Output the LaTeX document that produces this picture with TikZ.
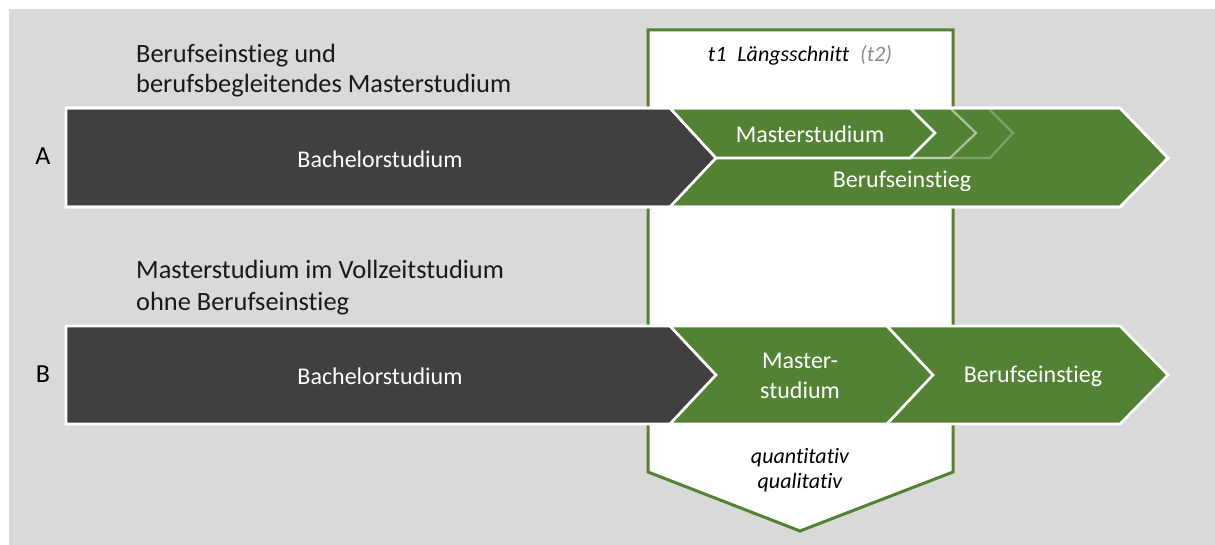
\documentclass[tikz,border=0pt]{standalone}
\usepackage{fontspec}
\setmainfont[Ligatures=NoCommon]{Carlito}
\definecolor{bggray}{HTML}{D9D9D9}
\definecolor{darkbar}{HTML}{404040}
\definecolor{grn}{HTML}{548235}
\definecolor{ltxt}{HTML}{8C8C8C}
\tikzset{
  barshape/.style={draw=white, line width=2.6pt, line join=miter},
  darkshape/.style={barshape, fill=darkbar},
  grnshape/.style={barshape, fill=grn},
  ghost/.style={draw=white, line width=2.2pt, line join=miter},
  titletxt/.style={anchor=base west, inner sep=0pt, font=\fontsize{26.4}{30}\selectfont, text=black!90},
  bartxt/.style={inner sep=0pt, font=\fontsize{24}{30}\selectfont, text=white, align=center},
  frametxt/.style={inner sep=0pt, font=\itshape\fontsize{22}{26}\selectfont, align=center},
}
\begin{document}
\begin{tikzpicture}[x=1pt,y=-1pt]
\useasboundingbox (0,0) rectangle (1215,545);
\fill[white] (0,0) rectangle (1215,545);
\fill[bggray] (9,9) rectangle (1215,545);
% frame
\draw[draw=grn, line width=3pt, fill=white, line join=miter]
  (648,30) -- (953,30) -- (953,472) -- (800,531) -- (648,472) -- cycle;
\node[frametxt, anchor=base] (ls) at (800,62) {t1\hspace{0.5em}Längsschnitt\hspace{0.5em}\textcolor{ltxt}{(t2)}};
\node[frametxt, anchor=base] (q1) at (800,463) {quantitativ};
\node[frametxt, anchor=base] (q2) at (800,488) {qualitativ};
% row A
\draw[darkshape] (66,108) -- (670,108) -- (716,158) -- (670,207) -- (66,207) -- cycle;
\draw[grnshape] (670,108) -- (1120,108) -- (1168,158) -- (1120,207) -- (670,207) -- (716,158) -- cycle;
\draw[ghost, draw opacity=0.25] (988,108) -- (1013,133) -- (990,158) -- (800,158);
\draw[ghost, draw opacity=0.5] (950,108) -- (976,133) -- (950,158) -- (800,158);
\draw[grnshape] (670,108) -- (910,108) -- (935,133) -- (910,158) -- (716,158) -- cycle;
\draw[barshape] (66,108) -- (1120,108) -- (1168,158) -- (1120,207) -- (66,207);
\node[bartxt] (ba) at (380,159) {Bachelorstudium};
\node[bartxt] (ma) at (810,134) {Masterstudium};
\node[bartxt] (ea) at (902,181) {Berufseinstieg};
\node[titletxt] (ta1) at (136,63) {Berufseinstieg und};
\node[titletxt] (ta2) at (136,93) {berufsbegleitendes Masterstudium};
\node[inner sep=0pt, font=\fontsize{26}{30}\selectfont] (la) at (43,156) {A};
% row B
\draw[darkshape] (66,326) -- (670,326) -- (716,375) -- (670,424) -- (66,424) -- cycle;
\draw[grnshape] (670,326) -- (887,326) -- (933,375) -- (887,424) -- (670,424) -- (716,375) -- cycle;
\draw[grnshape] (887,326) -- (1120,326) -- (1168,375) -- (1120,424) -- (887,424) -- (933,375) -- cycle;
\node[bartxt] (bb) at (380,376) {Bachelorstudium};
\node[bartxt] (mb) at (800,376) {Master-\\studium};
\node[bartxt] (eb) at (1033,376) {Berufseinstieg};
\node[titletxt] (tb1) at (136,279) {Masterstudium im Vollzeitstudium};
\node[titletxt] (tb2) at (136,310) {ohne Berufseinstieg};
\node[inner sep=0pt, font=\fontsize{26}{30}\selectfont] (lb) at (43,374) {B};
\end{tikzpicture}
\end{document}
